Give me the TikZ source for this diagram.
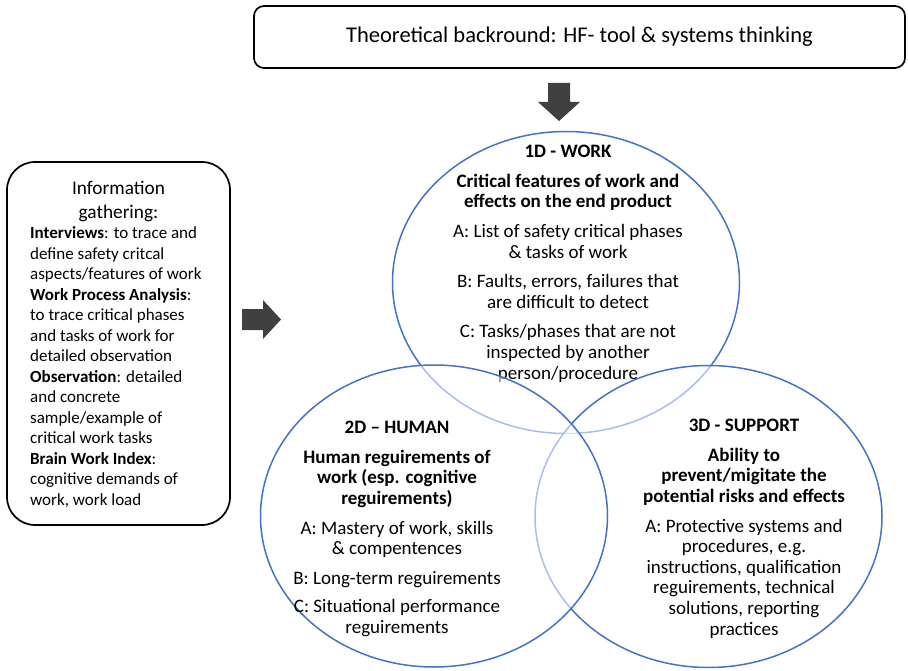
\documentclass[tikz,border=0pt]{standalone}
\usepackage{fontspec}
\setmainfont{Carlito}
\usepackage{tikz}
\usetikzlibrary{shapes.geometric}

\definecolor{vennblue}{HTML}{4472C4}
\definecolor{arrowgray}{HTML}{404040}

\begin{document}
\begin{tikzpicture}[
  x=1pt, y=-1pt,
  venn/.style={ellipse,draw=vennblue,line width=1.5pt,fill=white,fill opacity=0.55,
    minimum width=347pt,minimum height=302pt,inner sep=0pt},
  dimtext/.style={align=center,inner sep=0pt,anchor=north,font=\fontsize{19}{20.6}\selectfont},
  roundbox/.style={draw,line width=1.7pt,rounded corners=#1,inner sep=0pt},
  blockarrow/.style={fill=arrowgray}
]
  \useasboundingbox (0,0) rectangle (908,671);

  % theory box and arrow down
  \node[roundbox=10pt,minimum width=651pt,minimum height=62pt,
    font=\fontsize{22.5}{27}\selectfont] (theory) at (579.5,37)
    {Theoretical backround: HF- tool \& systems thinking};
  \fill[blockarrow] (548,83) -- (570,83) -- (570,102) -- (580,102)
    -- (559,121) -- (538,102) -- (548,102) -- cycle;

  % information gathering
  \node[roundbox=28pt,minimum width=223pt,minimum height=363pt] (info) at (118.5,343.5) {};
  \node[align=center,inner sep=0pt,anchor=north,font=\fontsize{19.3}{24}\selectfont]
    (infohead) at (118.5,181) {Information\\gathering:};
  \node[align=left,inner sep=0pt,anchor=north west,font=\fontsize{17}{20.5}\selectfont]
    (infobody) at (30,226.5) {\textbf{Interviews}: to trace and\\
      define safety critcal\\
      aspects/features of work\\
      \textbf{Work Process Analysis}:\\
      to trace critical phases\\
      and tasks of work for\\
      detailed observation\\
      \textbf{Observation}: detailed\\
      and concrete\\
      sample/example of\\
      critical work tasks\\
      \textbf{Brain Work Index}:\\
      cognitive demands of\\
      work, work load};
  \fill[blockarrow] (242,309) -- (263,309) -- (263,300) -- (281,319.5)
    -- (263,339) -- (263,330) -- (242,330) -- cycle;

  % the three dimensions
  \node[venn] (work) at (566,282.5) {};
  \node[dimtext] (worktext) at (568,145) {\textbf{1D - WORK}\\[9pt]
    \textbf{Critical features of work and}\\
    \textbf{effects on the end product}\\[9pt]
    A: List of safety critical phases\\
    \& tasks of work\\[9pt]
    B: Faults, errors, failures that\\
    are difficult to detect\\[9pt]
    C: Tasks/phases that are not\\
    inspected by another\\
    person/procedure};

  \node[venn] (support) at (708.5,516.5) {};
  \node[dimtext] (supporttext) at (744,419) {\textbf{3D - SUPPORT}\\[9pt]
    \textbf{Ability to}\\
    \textbf{prevent/migitate the}\\
    \textbf{potential risks and effects}\\[9pt]
    A: Protective systems and\\
    procedures, e.g.\\
    instructions, qualification\\
    reguirements, technical\\
    solutions, reporting\\
    practices};

  \node[venn] (human) at (434,516) {};
  \node[dimtext] (humantext) at (397,421) {\textbf{2D – HUMAN}\\[9pt]
    \textbf{Human reguirements of}\\
    \textbf{work (esp. cognitive}\\
    \textbf{reguirements)}\\[9pt]
    A: Mastery of work, skills\\
    \& compentences\\[9pt]
    B: Long-term reguirements\\[8pt]
    C: Situational performance\\
    reguirements};
\end{tikzpicture}
\end{document}
